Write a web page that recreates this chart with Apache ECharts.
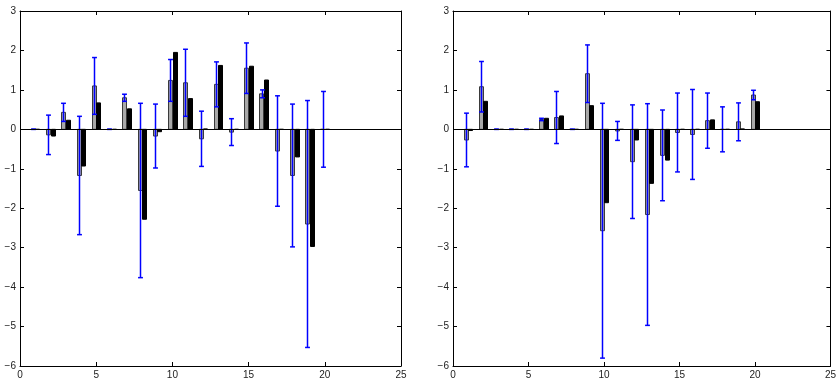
<!DOCTYPE html>
<html>
<head>
<meta charset="utf-8">
<script src="https://cdn.jsdelivr.net/npm/echarts@6/dist/echarts.min.js"></script>
<style>
  html, body { margin: 0; padding: 0; background: #fff; }
  #chart { width: 839px; height: 380px; }
</style>
</head>
<body>
<div id="chart"></div>
<script>
// group positions 1..20
const groups = [1, 2, 3, 4, 5, 6, 7, 8, 9, 10, 11, 12, 13, 14, 15, 16, 17, 18, 19, 20];

// left panel
const leftGray = [0, -0.14, 0.43, -1.17, 1.1, 0, 0.8, -1.55, -0.17, 1.24, 1.18, -0.24, 1.14, -0.07, 1.55, 0.9, -0.55, -1.17, -2.4, 0];
const leftBlack = [0, -0.17, 0.23, -0.93, 0.67, 0, 0.52, -2.28, -0.06, 1.95, 0.78, 0.01, 1.62, 0, 1.6, 1.25, 0, -0.7, -2.97, 0];
const leftErr = [0, 0.5, 0.23, 1.5, 0.72, 0, 0.09, 2.21, 0.81, 0.53, 0.85, 0.7, 0.57, 0.34, 0.64, 0.1, 1.4, 1.81, 3.13, 0.96];

// right panel
const rightGray = [-0.27, 1.08, 0, 0, 0, 0.25, 0.3, 0, 1.41, -2.57, -0.04, -0.82, -2.16, -0.66, -0.08, -0.13, 0.22, 0, 0.19, 0.87];
const rightBlack = [-0.03, 0.71, 0, 0, 0, 0.28, 0.34, 0, 0.6, -1.86, 0, -0.27, -1.37, -0.78, 0, 0, 0.24, 0, 0.01, 0.7];
const rightErr = [0.68, 0.64, 0, 0, 0, 0.03, 0.66, 0, 0.73, 3.23, 0.24, 1.44, 2.81, 1.15, 1.0, 1.14, 0.7, 0.57, 0.48, 0.12];

const xTicks = { min: 0, max: 25, interval: 5 };
const yTicks = { min: -6, max: 3, interval: 1 };

const BAR_W = 0.27;
const OFFSET = 0.15;
const CAP = 0.32;
const ERR_COLOR = '#0000ff';

const chart = echarts.init(document.getElementById('chart'));

function fmt(v) {
  return String(v).replace('-', '\u2212');
}

function barRenderer(offset, fill, stroke) {
  return function (params, api) {
    const x = api.value(0) + offset;
    const v = api.value(1);
    const p0 = api.coord([x - BAR_W / 2, 0]);
    const p1 = api.coord([x + BAR_W / 2, v]);
    return {
      type: 'rect',
      shape: {
        x: Math.round(p0[0]) + 0.5,
        y: Math.min(p0[1], p1[1]),
        width: Math.round(p1[0] - p0[0]),
        height: Math.abs(p1[1] - p0[1]),
      },
      style: { fill: fill, stroke: stroke, lineWidth: 1 },
    };
  };
}

function errRenderer(params, api) {
  const x = api.value(0) - OFFSET;
  const v = api.value(1);
  const e = api.value(2);
  const top = api.coord([x, v + e]);
  const bot = api.coord([x, v - e]);
  const cx = Math.round(top[0]) + 0.5;
  const half = (api.coord([x + CAP / 2, v])[0] - api.coord([x - CAP / 2, v])[0]) / 2;
  return {
    type: 'group',
    children: [
      { type: 'line', shape: { x1: cx, y1: top[1], x2: cx, y2: bot[1] }, style: { stroke: ERR_COLOR, lineWidth: 1.5 } },
      { type: 'line', shape: { x1: cx - half, y1: top[1], x2: cx + half, y2: top[1] }, style: { stroke: ERR_COLOR, lineWidth: 1.5 } },
      { type: 'line', shape: { x1: cx - half, y1: bot[1], x2: cx + half, y2: bot[1] }, style: { stroke: ERR_COLOR, lineWidth: 1.5 } },
    ],
  };
}

const labelStyle = { color: '#222', fontSize: 10, fontFamily: 'Liberation Sans, Arial, sans-serif' };

function xAxes(gridIndex) {
  const base = {
    type: 'value', gridIndex: gridIndex, min: xTicks.min, max: xTicks.max, interval: xTicks.interval,
    axisLine: { show: true, onZero: false, lineStyle: { color: '#000', width: 1 } },
    axisTick: { show: true, inside: true, length: 4, lineStyle: { color: '#000' } },
    splitLine: { show: false },
  };
  return [
    Object.assign({}, base, { position: 'bottom', axisLabel: Object.assign({ margin: 4, formatter: fmt }, labelStyle) }),
    Object.assign({}, base, { position: 'top', axisLabel: { show: false } }),
  ];
}

function yAxes(gridIndex) {
  const base = {
    type: 'value', gridIndex: gridIndex, min: yTicks.min, max: yTicks.max, interval: yTicks.interval,
    axisLine: { show: true, onZero: false, lineStyle: { color: '#000', width: 1 } },
    axisTick: { show: true, inside: true, length: 4, lineStyle: { color: '#000' } },
    splitLine: { show: false },
  };
  return [
    Object.assign({}, base, { position: 'left', axisLabel: Object.assign({ margin: 4, formatter: fmt }, labelStyle) }),
    Object.assign({}, base, { position: 'right', axisLabel: { show: false } }),
  ];
}

function panelSeries(axisIndex, gray, black, err) {
  const grayData = groups.map((g, i) => [g, gray[i]]);
  const blackData = groups.map((g, i) => [g, black[i]]);
  const errData = groups.map((g, i) => [g, gray[i], err[i]]);
  return [
    {
      type: 'custom', xAxisIndex: axisIndex, yAxisIndex: axisIndex,
      renderItem: barRenderer(-OFFSET, '#a8a8a8', '#3a3a3a'), data: grayData, silent: true, z: 2,
    },
    {
      type: 'custom', xAxisIndex: axisIndex, yAxisIndex: axisIndex,
      renderItem: barRenderer(OFFSET, '#000', '#000'), data: blackData, silent: true, z: 2,
      markLine: {
        silent: true, symbol: 'none', label: { show: false },
        lineStyle: { color: '#000', type: 'solid', width: 1 },
        data: [{ yAxis: 0 }],
      },
    },
    {
      type: 'custom', xAxisIndex: axisIndex, yAxisIndex: axisIndex,
      renderItem: errRenderer, data: errData, silent: true, z: 4,
    },
  ];
}

chart.setOption({
  animation: false,
  backgroundColor: '#fff',
  grid: [
    { left: 20, right: 438, top: 11, bottom: 14 },
    { left: 453, right: 7, top: 11, bottom: 14 },
  ],
  xAxis: xAxes(0).concat(xAxes(1)),
  yAxis: yAxes(0).concat(yAxes(1)),
  series: panelSeries(0, leftGray, leftBlack, leftErr).concat(panelSeries(2, rightGray, rightBlack, rightErr)),
});
</script>
</body>
</html>
